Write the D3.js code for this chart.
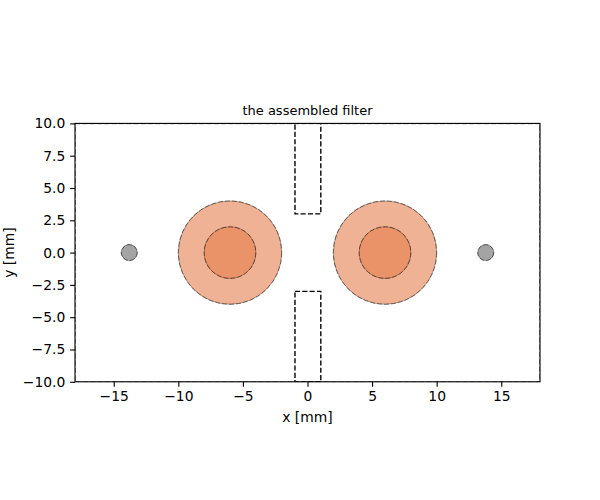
<!DOCTYPE html>
<html>
<head>
<meta charset="UTF-8">
<title>the assembled filter</title>
<script src="https://cdn.jsdelivr.net/npm/d3@7"></script>
<style>
	html, body { margin: 0; padding: 0; background: #fff; }
	svg { display: block; }
	text { font-family: "DejaVu Sans", sans-serif; fill: #000; }
	.tick text { font-size: 13.89px; }
	.tick line { stroke: #000; stroke-width: 1.11px; }
</style>
</head>
<body>
<script>
var xDomain = [-18, 18];
var yDomain = [-10, 10];
var xTicks = [-15, -10, -5, 0, 5, 10, 15];
var yTicks = [-10, -7.5, -5, -2.5, 0, 2.5, 5, 7.5, 10];

// big + small holes: [cx, cy, r]
var outerHoles = [[-6, 0, 4], [6, 0, 4]];
var innerHoles = [[-6, 0, 2], [6, 0, 2]];
var pins = [[-13.8, 0, 0.62], [13.8, 0, 0.62]];
// slots: [x0, x1, y0, y1]
var slots = [[-1, 1, 3, 10], [-1, 1, -10, -3]];
var housing = [[-18, 18, -10, 10]];

var W = 600, H = 500;
var left = 75, right = 540, top_ = 123.4, bottom = 381.8;

var x = d3.scaleLinear().domain(xDomain).range([left, right]);
var y = d3.scaleLinear().domain(yDomain).range([bottom, top_]);
var pxPerMm = x(1) - x(0);
var minus = s => s.replace("-", "\u2212");

var svg = d3.select("body").append("svg").attr("width", W).attr("height", H);

svg.append("clipPath").attr("id", "plot")
	.append("rect")
	.attr("x", left).attr("y", top_)
	.attr("width", right - left).attr("height", bottom - top_);

var plot = svg.append("g").attr("clip-path", "url(#plot)");

function circles(data, fill, opacity) {
	var g = plot.append("g");
	g.selectAll("circle.fill").data(data).enter().append("circle")
		.attr("class", "fill")
		.attr("cx", d => x(d[0])).attr("cy", d => y(d[1]))
		.attr("r", d => d[2] * pxPerMm)
		.attr("fill", fill).attr("fill-opacity", opacity)
		.attr("stroke", "#000").attr("stroke-opacity", 0.28).attr("stroke-width", 1);
	g.selectAll("circle.dash").data(data).enter().append("circle")
		.attr("class", "dash")
		.attr("cx", d => x(d[0])).attr("cy", d => y(d[1]))
		.attr("r", d => d[2] * pxPerMm)
		.attr("fill", "none")
		.attr("stroke", "#000").attr("stroke-opacity", 0.45).attr("stroke-width", 1)
		.attr("stroke-dasharray", "5,2");
}

circles(outerHoles, "#e67f4d", 0.6);
circles(innerHoles, "#e67f4d", 0.6);
circles(pins, "#7e7e7e", 0.7);

plot.selectAll("rect.slot").data(slots).enter().append("rect")
	.attr("class", "slot")
	.attr("x", d => x(d[0]) + 0.4).attr("y", d => y(d[3]))
	.attr("width", d => x(d[1]) - x(d[0])).attr("height", d => y(d[2]) - y(d[3]))
	.attr("fill", "none").attr("stroke", "#000").attr("stroke-width", 1.39)
	.attr("stroke-dasharray", "5.1,2.2");

// dashed outline that sits on the frame, only its inner edge shows
plot.selectAll("rect.housing").data(housing).enter().append("rect")
	.attr("class", "housing")
	.attr("x", d => x(d[0])).attr("y", d => y(d[3]))
	.attr("width", d => x(d[1]) - x(d[0])).attr("height", d => y(d[2]) - y(d[3]))
	.attr("fill", "none").attr("stroke", "#000").attr("stroke-opacity", 0.45).attr("stroke-width", 1.8)
	.attr("stroke-dasharray", "5.1,2.2");

// axes
var xAxis = d3.axisBottom(x).tickValues(xTicks).tickSize(4.86).tickPadding(4.86)
	.tickFormat(d => minus(String(d)));
var yAxis = d3.axisLeft(y).tickValues(yTicks).tickSize(4.86).tickPadding(4.86)
	.tickFormat(d => minus(d3.format(".1f")(d)));

var gx = svg.append("g").attr("transform", "translate(0," + bottom + ")").call(xAxis);
var gy = svg.append("g").attr("transform", "translate(" + left + ",0)").call(yAxis);
gx.select(".domain").remove();
gy.select(".domain").remove();
gx.selectAll("text").attr("fill", "#000");
gy.selectAll("text").attr("fill", "#000");

// spines
svg.append("rect")
	.attr("x", left).attr("y", top_)
	.attr("width", right - left).attr("height", bottom - top_)
	.attr("fill", "none").attr("stroke", "#000").attr("stroke-width", 1.11);

svg.append("text").attr("x", (left + right) / 2).attr("y", 115)
	.attr("text-anchor", "middle").style("font-size", "13px")
	.text("the assembled filter");

svg.append("text").attr("x", (left + right) / 2).attr("y", 422)
	.attr("text-anchor", "middle").style("font-size", "13.89px")
	.text("x [mm]");

svg.append("text").attr("transform", "translate(14," + (top_ + bottom) / 2 + ") rotate(-90)")
	.attr("text-anchor", "middle").style("font-size", "13.89px")
	.text("y [mm]");
</script>
</body>
</html>
